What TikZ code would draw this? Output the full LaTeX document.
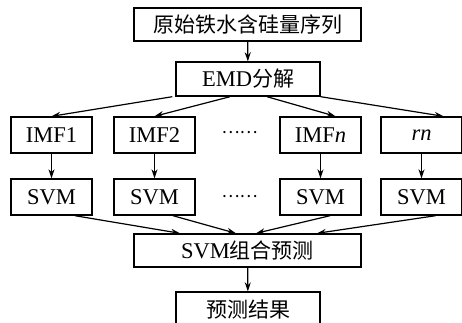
\documentclass[tikz,border=0pt]{standalone}
\usepackage{fontspec}
\setmainfont{Liberation Serif}
\newfontfamily\cjk{Noto Sans CJK SC}
\usetikzlibrary{arrows.meta}
\tikzset{
  box/.style={draw, line width=1.4pt, inner sep=0pt, font=\fontsize{22.5}{25}\selectfont},
  wide/.style={box, minimum width=227pt, minimum height=33pt},
  mid/.style={box, minimum width=144pt, minimum height=34pt},
  small/.style={box, minimum width=81pt, minimum height=36pt},
  arr/.style={line width=1.2pt, -{Stealth[length=9pt,width=6pt]}},
  dotsnode/.style={inner sep=0pt, font=\cjk\fontsize{17}{17}\selectfont}
}
\begin{document}
\begin{tikzpicture}[x=1pt,y=-1pt]
\clip (0,0) rectangle (462,322);
\useasboundingbox (0,0) rectangle (462,322);
\node[wide] (src) at (247.5,24.5) {\cjk\fontsize{21}{24}\selectfont 原始铁水含硅量序列};
\node[mid] (emd) at (248,79) {EMD{\cjk\fontsize{21}{24}\selectfont 分解}};
\node[small] (imf1) at (51.5,135) {IMF1};
\node[small] (imf2) at (154.5,135) {IMF2};
\node[small] (imfn) at (320.5,135) {IMF\textit{n}};
\node[small] (rn) at (421.5,135) {\textit{rn}};
\node[small] (svm1) at (51.5,197) {SVM};
\node[small] (svm2) at (154.5,197) {SVM};
\node[small] (svmn) at (320.5,197) {SVM};
\node[small] (svmr) at (421.5,197) {SVM};
\node[dotsnode] (d1) at (239.5,133) {……};
\node[dotsnode] (d2) at (239.5,197) {……};
\node[wide] (comb) at (247.5,250.5) {SVM{\cjk\fontsize{21}{24}\selectfont 组合预测}};
\node[mid] (res) at (248,309) {\cjk\fontsize{21}{24}\selectfont 预测结果};
\draw[arr] (src) -- (emd);
\draw[arr] ([xshift=-3pt]emd.south west) -- (imf1.north);
\draw[arr] ([xshift=-18pt]emd.south) -- (imf2.north);
\draw[arr] ([xshift=19pt]emd.south) -- ([xshift=15pt]imfn.north);
\draw[arr] (emd.south east) -- ([xshift=22pt]rn.north);
\draw[arr] (imf1) -- (svm1);
\draw[arr] (imf2) -- (svm2);
\draw[arr] (imfn) -- (svmn);
\draw[arr] (rn) -- (svmr);
\draw[arr] ([xshift=23.5pt]svm1.south) -- ([xshift=-67.5pt]comb.north);
\draw[arr] ([xshift=18.5pt]svm2.south) -- ([xshift=-11.5pt]comb.north);
\draw[arr] ([xshift=9.5pt]svmn.south) -- ([xshift=8.5pt]comb.north);
\draw[arr] ([xshift=14pt]svmr.south) -- ([xshift=69.5pt]comb.north);
\draw[arr] (comb) -- (res);
\end{tikzpicture}
\end{document}
